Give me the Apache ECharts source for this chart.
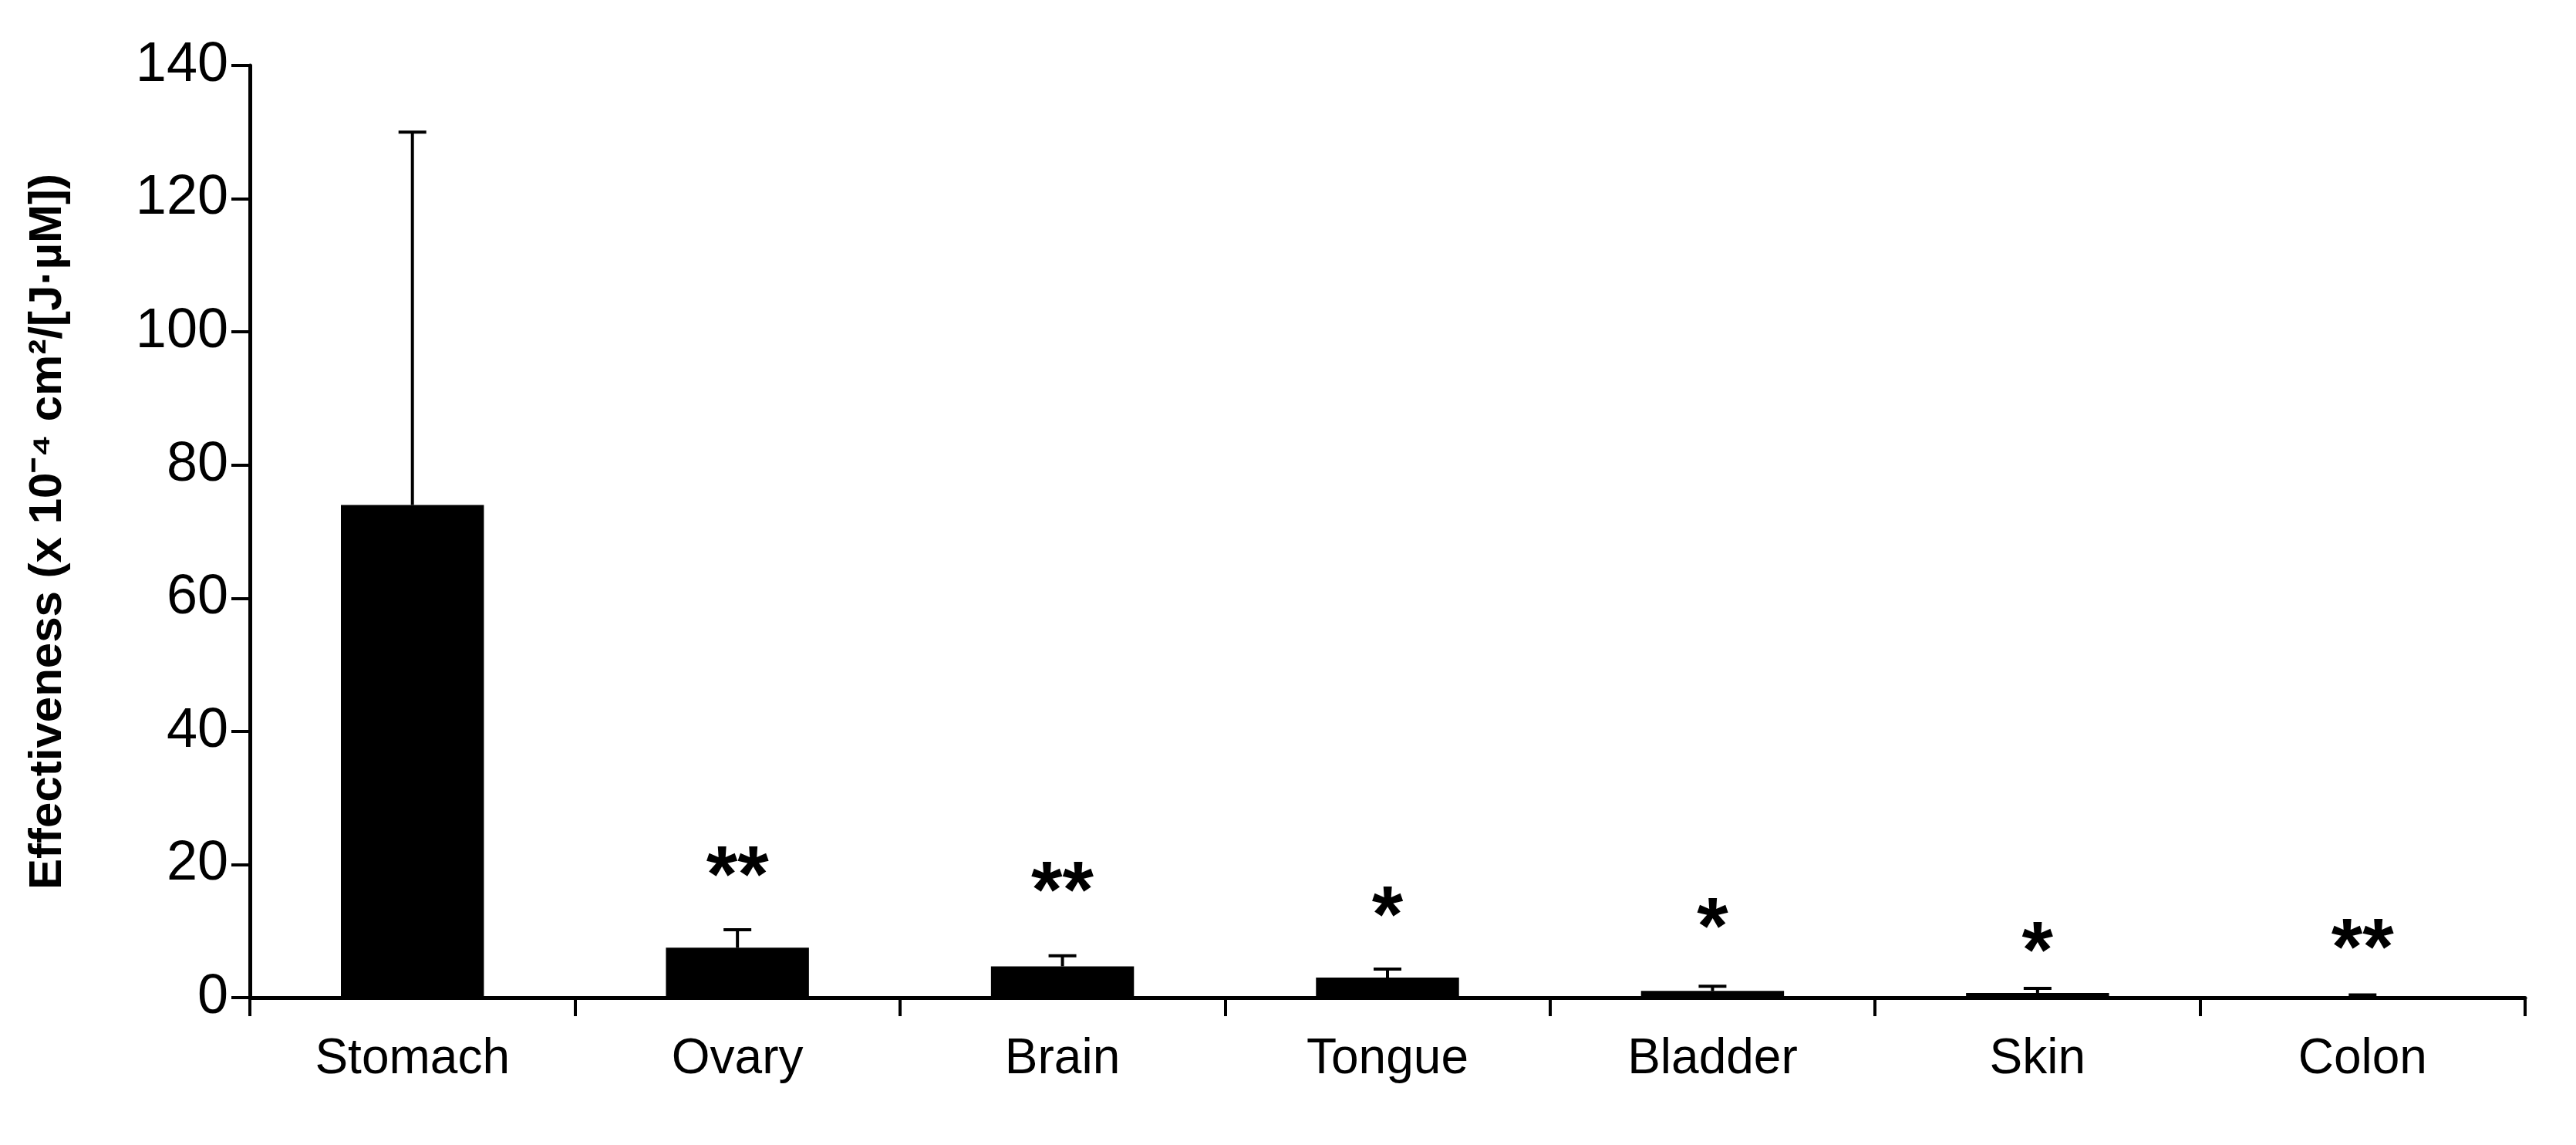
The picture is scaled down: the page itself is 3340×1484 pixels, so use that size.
<!DOCTYPE html>
<html><head><meta charset="utf-8">
<script src="https://cdn.jsdelivr.net/npm/echarts@6/dist/echarts.min.js"></script>
<style>html,body{margin:0;background:#fff}#c{width:3340px;height:1484px}</style>
</head><body><div id="c"></div>
<script>
const categories = ['Stomach','Ovary','Brain','Tongue','Bladder','Skin','Colon'];
const values = [74, 7.5, 4.7, 3.0, 1.0, 0.7, 0.2];
const errTop = [130, 10.2, 6.3, 4.3, 1.7, 1.4, 0.4];
const stars = ['', '**', '**', '*', '*', '*', '**'];
const starY = [null, 19.5, 17.2, 13.5, 11.8, 8.2, 8.6];
const yTicks = [0, 20, 40, 60, 80, 100, 120, 140];

const chart = echarts.init(document.getElementById('c'));
const F = '"Liberation Sans", Arial, sans-serif';
chart.setOption({
  animation: false,
  grid: {left: 324, right: 66, top: 85, bottom: 191},
  xAxis: {
    type: 'category', data: categories,
    axisLine: {lineStyle: {color: '#000', width: 5}},
    axisTick: {show: true, length: 24, lineStyle: {color: '#000', width: 4}},
    axisLabel: {color: '#000', fontSize: 64, fontFamily: F, margin: 48}
  },
  yAxis: {
    type: 'value', min: yTicks[0], max: yTicks[yTicks.length-1], interval: 20,
    name: 'Effectiveness (x 10\u207B\u2074 cm\u00B2/[J\u00B7\u00B5M])',
    nameLocation: 'middle', nameGap: 232,
    nameTextStyle: {color: '#000', fontSize: 60, fontWeight: 'bold', fontFamily: '"Liberation Sans Narrow", ' + F},
    axisLine: {show: true, lineStyle: {color: '#000', width: 5}},
    axisTick: {show: true, length: 24, lineStyle: {color: '#000', width: 4}},
    splitLine: {show: false},
    axisLabel: {color: '#000', fontSize: 72, fontFamily: F, margin: 28}
  },
  series: [
    {type: 'bar', data: values, barWidth: '44%', itemStyle: {color: '#000'}, z: 2},
    {type: 'custom', z: 1,
     data: categories.map((c,i)=>[i, values[i], errTop[i]]),
     renderItem: (params, api) => {
       const b = api.coord([api.value(0), api.value(1)]);
       const t = api.coord([api.value(0), api.value(2)]);
       const hw = 18;
       return {type: 'group', children: [
         {type: 'line', shape: {x1: b[0], y1: b[1], x2: t[0], y2: t[1]}, style: {stroke: '#000', lineWidth: 4}},
         {type: 'line', shape: {x1: t[0]-hw, y1: t[1], x2: t[0]+hw, y2: t[1]}, style: {stroke: '#000', lineWidth: 4}}
       ]};
     }},
    {type: 'custom', z: 3,
     data: categories.map((c,i)=>[i, starY[i] == null ? 0 : starY[i], stars[i]]),
     renderItem: (params, api) => {
       const s = stars[params.dataIndex];
       if (!s) return null;
       const p = api.coord([api.value(0), api.value(1)]);
       return {type: 'text', style: {x: p[0], y: p[1] + 16, text: s, fill: '#000', font: 'bold 104px ' + F, align: 'center', verticalAlign: 'middle'}};
     }}
  ]
});
</script></body></html>
